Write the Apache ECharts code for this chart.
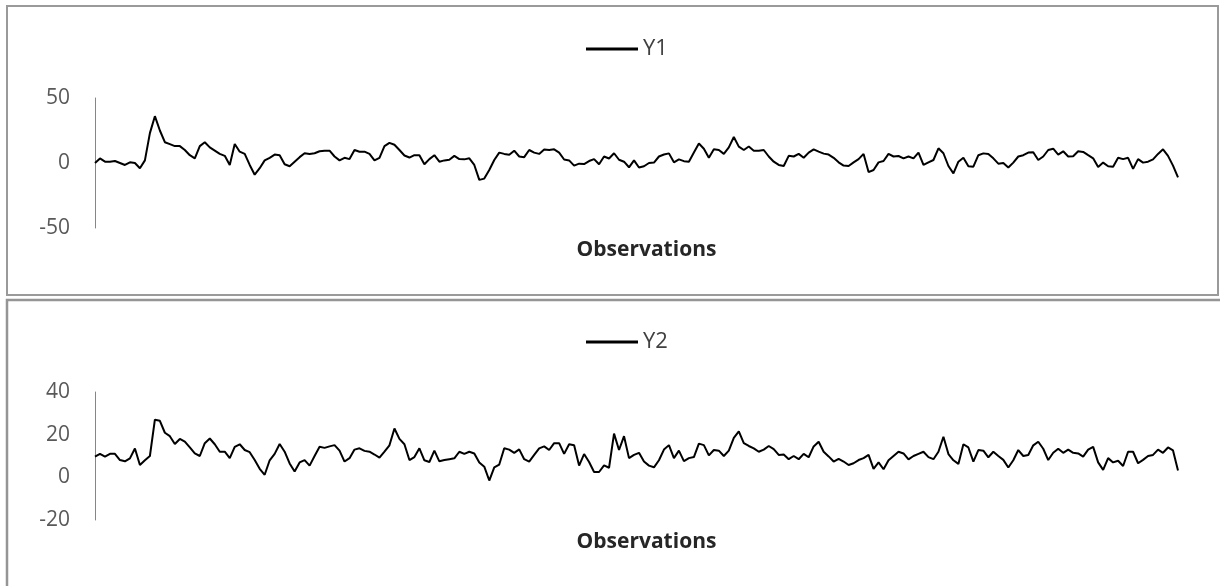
<!DOCTYPE html>
<html>
<head>
<meta charset="utf-8">
<script src="https://cdn.jsdelivr.net/npm/echarts@6/dist/echarts.min.js"></script>
<style>
  html, body { margin: 0; padding: 0; background: #fff; }
  #chart { width: 1220px; height: 586px; }
</style>
</head>
<body>
<div id="chart"></div>
<script>
const y1Values = [
  0, 3.5, 1, 1, 1.5, 0, -1.5, 0.5, 0, -4,
  2, 23, 36, 25, 16, 14.5, 13, 13, 10, 6,
  3.6, 13, 16, 12, 9.5, 7, 5.5, -1.5, 14.6, 8.7,
  7, -1.5, -9, -4, 2, 4, 6.5, 6, -1, -2.5,
  1, 4.5, 7.5, 7, 7.5, 9, 9.5, 9.5, 5, 2,
  4, 3, 10, 8.7, 8.7, 7, 2, 4, 13, 15.5,
  14, 10, 5.8, 4.2, 6, 6, -1, 3, 6, 1,
  2, 2.5, 5.5, 3,
  2.8, 3.6, -1.5, -13, -12, -5.4, 2.3, 8, 7, 6.3,
  9.5, 5, 4.5, 10, 8, 7, 10.3, 10, 10.5, 8,
  2.7, 2, -2, -0.5, -0.8, 1.5, 3, -1, 5, 3.5,
  7.5, 2.5, 1, -3.3, 2, -3.5, -2.5, 0, 0.3, 5,
  6.5, 7.4, 0.5, 2.8, 1.4, 1, 8, 15, 11, 4,
  10.5, 10, 7, 12, 20, 12.6, 10, 12.7, 9.5, 9.5,
  10, 5, 1, -1.5, -2.3, 5.5, 5, 7, 4, 8,
  10.5, 8.7,
  7.2, 6.5, 4, 0.5, -2, -2.3, 0.5, 3, 7, -7,
  -5.4, 0.5, 1.5, 7, 5, 5.4, 3.6, 5, 3.6, 8,
  -1.5, 0.5, 2.3, 11.3, 7.5, -2.3, -8, 1, 4, -2.5,
  -2.8, 6, 7.4, 7, 3.6, -0.5, 0, -3.5, 0.3, 5,
  6, 8, 8.3, 2.3, 5, 10, 11, 6.5, 9, 5,
  5.2, 9, 8.5, 6, 3.6, -3, 0.3, -2.5, -2.8, 4,
  3, 4, -4.5, 3, 0.3, 1, 2.8, 7, 10.5, 5.5,
  -2, -11
];

const y2Values = [
  9.7, 11, 9.7, 11, 11, 8.1, 7.5, 8.9, 13.5, 5.8,
  8, 10, 27, 26.5, 20.9, 19.3, 15.6, 18, 16.7, 14,
  11.2, 10, 16, 18.2, 15.5, 12, 12, 9, 14.3, 15.5,
  12.8, 11.8, 8.1, 4, 1.2, 8, 11, 15.6, 12, 6.5,
  2.7, 7, 8.1, 5.5, 10, 14.3, 13.8, 14.5, 15.1, 12.5,
  7.4, 9, 13, 13.6, 12.4, 12, 10.7, 9.2, 12, 15,
  22.9, 18, 15.5, 8.1, 9.5, 13.6, 8, 7.2, 12.5, 7.5,
  8.1, 8.5, 8.9, 12,
  11, 12, 11.2, 7, 5, -1.5, 4.7, 6, 13.6, 13,
  11.5, 13.1, 8.5, 7.4, 10.5, 13.6, 14.5, 12.8, 16, 16,
  11, 15.5, 15, 5.5, 10.9, 7.2, 2.5, 2.5, 5.6, 4.5,
  20.5, 12.8, 19.3, 9, 10.5, 11.5, 7.4, 5.5, 4.7, 8,
  13, 15.1, 9, 12.5, 7.6, 9, 9.5, 15.8, 15.1, 10.3,
  12.8, 12.5, 10, 12.5, 18.5, 21.5, 16, 14.7, 13.6, 12,
  13, 14.7, 13.2, 10.5, 10.7, 8.5, 10, 8.5, 11, 9.4,
  14.5, 16.7,
  12, 9.8, 7.4, 8.7, 7.4, 5.8, 6.6, 8.1, 9, 10.5,
  4, 7, 3.8, 8, 10, 12, 11.2, 8.4, 10, 11,
  12, 9.5, 8.5, 12, 19, 10.9, 8, 6.3, 15.5, 14,
  7.4, 12.8, 12.5, 9.4, 12, 10, 8.2, 4.6, 8, 12.8,
  10, 10.5, 15, 16.7, 13.4, 8.1, 11.5, 13.4, 11.5, 13,
  11.5, 11.2, 9.7, 13, 14.3, 7, 3.5, 9, 7, 7.8,
  5.3, 12, 12, 6.6, 8.2, 10, 10.5, 13, 11.5, 14,
  12.6, 3.2
];

// Category labels: observation numbers
const observations = y1Values.map((_, i) => String(i + 1));

// Y-axis tick settings
const y1Ticks = { min: -50, max: 50, interval: 50 };
const y2Ticks = { min: -20, max: 40, interval: 20 };

const seriesNames = ['Y1', 'Y2'];
const axisTitle = 'Observations';

const FONT = 'Open Sans';

function legendCfg(name, top) {
  return {
    data: [name], left: 581, top: top,
    icon: 'rect', itemWidth: 52, itemHeight: 3, itemGap: 0,
    textStyle: { fontFamily: FONT, fontSize: 22, color: '#404040', padding: [0, 0, 0, 0] }
  };
}
function xAxisCfg(idx) {
  return {
    type: 'category', gridIndex: idx, data: observations, boundaryGap: false,
    axisLine: { show: false }, axisTick: { show: false }, axisLabel: { show: false },
    splitLine: { show: false },
    name: axisTitle, nameLocation: 'middle', nameGap: 12,
    nameTextStyle: { fontFamily: FONT, fontWeight: 'bold', fontSize: 21, color: '#262626', padding: [0, 0, 0, 20] }
  };
}
function yAxisCfg(idx, t) {
  return {
    type: 'value', gridIndex: idx, min: t.min, max: t.max, interval: t.interval,
    axisLine: { show: true, lineStyle: { color: '#868686', width: 1 } },
    axisTick: { show: false }, splitLine: { show: false },
    axisLabel: { fontFamily: FONT, fontSize: 21, color: '#595959', margin: 25 }
  };
}
function seriesCfg(name, idx, data) {
  return {
    name: name, type: 'line', xAxisIndex: idx, yAxisIndex: idx, data: data,
    symbol: 'none', showSymbol: false, smooth: false,
    lineStyle: { color: '#000', width: 2 }, itemStyle: { color: '#000' }
  };
}

const chart = echarts.init(document.getElementById('chart'), null, { renderer: 'canvas' });
chart.setOption({
  animation: false,
  backgroundColor: '#ffffff',
  graphic: [
    { type: 'rect', shape: { x: 7, y: 6, width: 1211, height: 289 },
      style: { fill: 'none', stroke: '#9a9a9a', lineWidth: 2 }, silent: true, z: -1 },
    { type: 'rect', shape: { x: 7, y: 300, width: 1225, height: 300 },
      style: { fill: 'none', stroke: '#959595', lineWidth: 2.5 }, silent: true, z: -1 }
  ],
  legend: [legendCfg(seriesNames[0], 33), legendCfg(seriesNames[1], 326)],
  grid: [
    { left: 95, right: 42, top: 98, height: 130 },
    { left: 95, right: 42, top: 392, height: 128 }
  ],
  xAxis: [xAxisCfg(0), xAxisCfg(1)],
  yAxis: [yAxisCfg(0, y1Ticks), yAxisCfg(1, y2Ticks)],
  series: [seriesCfg(seriesNames[0], 0, y1Values), seriesCfg(seriesNames[1], 1, y2Values)]
});
</script>
</body>
</html>
